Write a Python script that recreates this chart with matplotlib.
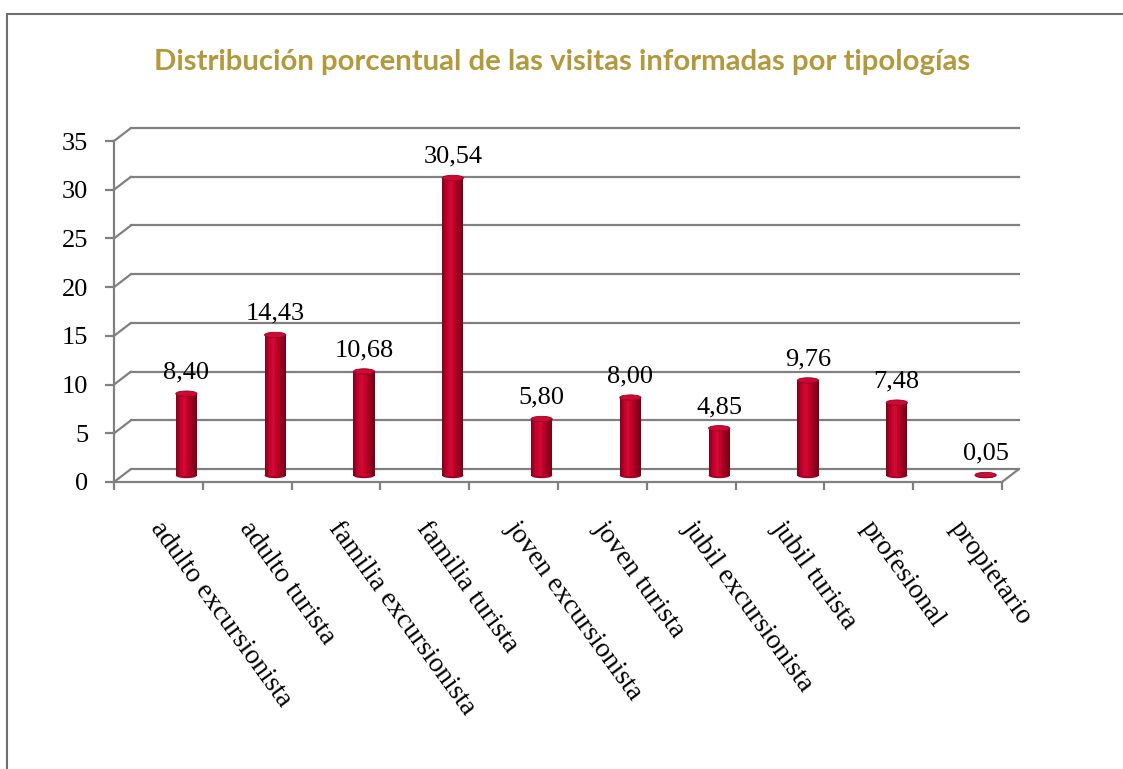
import matplotlib
matplotlib.use("Agg")
import matplotlib.pyplot as plt
from matplotlib.transforms import ScaledTranslation
from matplotlib.patches import Ellipse, ConnectionPatch, Rectangle
from matplotlib.colors import LinearSegmentedColormap
import numpy as np

# --- Data ---
categories = ["adulto excursionista", "adulto turista", "familia excursionista",
              "familia turista", "joven excursionista", "joven turista",
              "jubil excursionista", "jubil turista", "profesional", "propietario"]
values = [8.40, 14.43, 10.68, 30.54, 5.80, 8.00, 4.85, 9.76, 7.48, 0.05]
yticks = [0, 5, 10, 15, 20, 25, 30, 35]
title = "Distribución porcentual de las visitas informadas por tipologías"

# --- Style ---
SERIF = "Liberation Serif"
GRID = "#808080"
TITLE_COLOR = "#B3993B"
shade = LinearSegmentedColormap.from_list(
    "cyl", ["#8A001B", "#C2002B", "#D20A35", "#BE0029", "#96001E", "#7A0017"])

W, H = 1123, 769
fig = plt.figure(figsize=(W / 100, H / 100), dpi=100)
ax = fig.add_axes([114 / W, (H - 482) / H, 888 / W, (482 - 141) / H])
ax.set_xlim(0, len(categories))
ax.set_ylim(0, 35)
ax.patch.set_visible(False)

# depth offsets (back wall and bar plane)
back = ax.transData + ScaledTranslation(0.17, 0.13, fig.dpi_scale_trans)
mid = ax.transData + ScaledTranslation(0.28, 0.065, fig.dpi_scale_trans)

for s in ["top", "right"]:
    ax.spines[s].set_visible(False)
for s in ["left", "bottom"]:
    ax.spines[s].set_color(GRID)
    ax.spines[s].set_linewidth(1.6)

# back wall gridlines + side wall diagonals
for v in yticks:
    ax.plot([0, len(categories)], [v, v], transform=back, color=GRID,
            lw=1.6, clip_on=False, zorder=1)
    ax.add_artist(ConnectionPatch(xyA=(0, v), coordsA=ax.transData,
                                  xyB=(0, v), coordsB=back, color=GRID,
                                  lw=1.6, zorder=1))
ax.add_artist(ConnectionPatch(xyA=(len(categories), 0), coordsA=ax.transData,
                              xyB=(len(categories), 0), coordsB=back,
                              color=GRID, lw=1.6, zorder=1))

# cylinders
bw = 0.24
nstrip = 14
strip_w = bw / nstrip
strip_colors = shade(np.linspace(0, 1, nstrip))
for i, v in enumerate(values):
    xc = i + 0.5
    ax.add_patch(Ellipse((xc, 0), bw, 0.55, transform=mid, facecolor="#A50023",
                         edgecolor="none", clip_on=False, zorder=3))
    for k in range(nstrip):
        ax.bar(xc - bw / 2 + (k + 0.5) * strip_w, v, width=strip_w * 1.02,
               color=strip_colors[k], transform=mid, clip_on=False, zorder=3,
               linewidth=0)
    ax.add_patch(Ellipse((xc, v), bw, 0.55, transform=mid, facecolor="#CC0A36",
                         edgecolor="#9A001F", lw=0.6, clip_on=False, zorder=4))
    ax.annotate(f"{v:.2f}".replace(".", ","), xy=(xc, v), xycoords=mid,
                xytext=(0, 11), textcoords="offset points", ha="center",
                va="baseline", fontsize=19, family=SERIF, zorder=5)

# axes ticks
ax.set_yticks(yticks)
ax.set_yticklabels([str(t) for t in yticks], fontsize=19, family=SERIF)
ax.set_xticks(range(len(categories) + 1))
ax.set_xticklabels([])
ax.tick_params(axis="y", length=6.5, width=1.6, color=GRID, pad=12)
ax.tick_params(axis="x", length=6, width=1.6, color=GRID)

for i, name in enumerate(categories):
    ax.annotate(name, xy=(i + 0.5, 0), xycoords="data", xytext=(5, -25),
                textcoords="offset points", rotation=-54, rotation_mode="anchor",
                ha="left", va="top", fontsize=20, family=SERIF)

fig.text(0.501, 1 - 62 / H, title, ha="center", va="center", fontsize=21.2,
         fontweight="bold", family="Lato", color=TITLE_COLOR)

# chart border (top and left visible)
fig.add_artist(Rectangle((7 / W, -0.1), 1.2, 1 - 14 / H + 0.1,
                         transform=fig.transFigure, fill=False,
                         edgecolor="#6E6E6E", lw=1.5))

fig.savefig("out.png", dpi=100)
